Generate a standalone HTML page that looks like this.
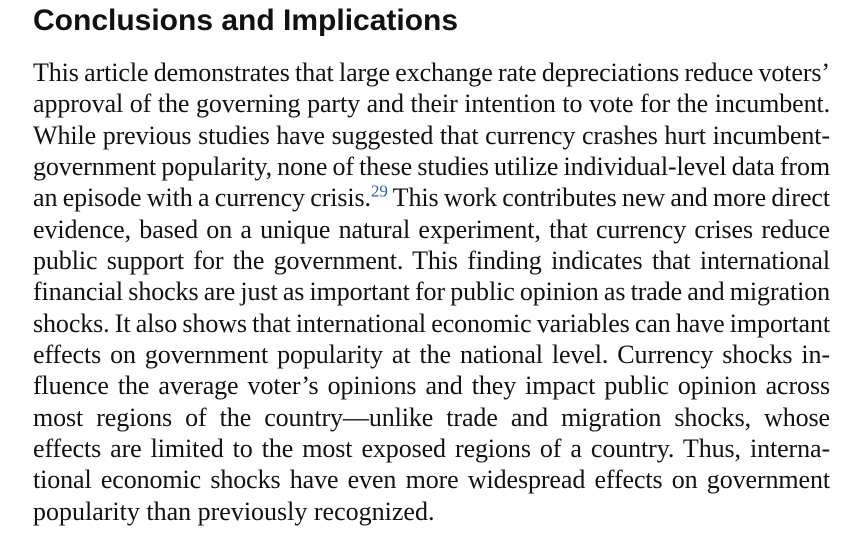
<!DOCTYPE html>
<html><head><meta charset="utf-8"><style>
html,body{margin:0;padding:0;background:#fff;width:866px;height:538px;overflow:hidden}
h1{position:absolute;left:33px;top:4px;margin:0;font:bold 30px "Liberation Sans",sans-serif;color:#111}
.l{position:absolute;left:33px;width:797px;font:26px/31px "Liberation Serif",serif;color:#111;text-align:justify;text-align-last:justify;white-space:nowrap;word-spacing:-3px;letter-spacing:-0.1px}
.l.last{text-align-last:left;word-spacing:0;letter-spacing:0}
sup{font-size:17px;color:#2a5db0;line-height:0}
</style></head><body>
<h1>Conclusions and Implications</h1>
<div>
<div class="l" style="top:57px">This article demonstrates that large exchange rate depreciations reduce voters’</div>
<div class="l" style="top:88px">approval of the governing party and their intention to vote for the incumbent.</div>
<div class="l" style="top:120px">While previous studies have suggested that currency crashes hurt incumbent-</div>
<div class="l" style="top:151px">government popularity, none of these studies utilize individual-level data from</div>
<div class="l" style="top:182px">an episode with a currency crisis.<sup>29</sup> This work contributes new and more direct</div>
<div class="l" style="top:214px">evidence, based on a unique natural experiment, that currency crises reduce</div>
<div class="l" style="top:245px">public support for the government. This finding indicates that international</div>
<div class="l" style="top:276px">financial shocks are just as important for public opinion as trade and migration</div>
<div class="l" style="top:308px">shocks. It also shows that international economic variables can have important</div>
<div class="l" style="top:339px">effects on government popularity at the national level. Currency shocks in-</div>
<div class="l" style="top:370px">fluence the average voter’s opinions and they impact public opinion across</div>
<div class="l" style="top:402px">most regions of the country—unlike trade and migration shocks, whose</div>
<div class="l" style="top:433px">effects are limited to the most exposed regions of a country. Thus, interna-</div>
<div class="l" style="top:464px">tional economic shocks have even more widespread effects on government</div>
<div class="l last" style="top:496px">popularity than previously recognized.</div>
</div>
</body></html>
